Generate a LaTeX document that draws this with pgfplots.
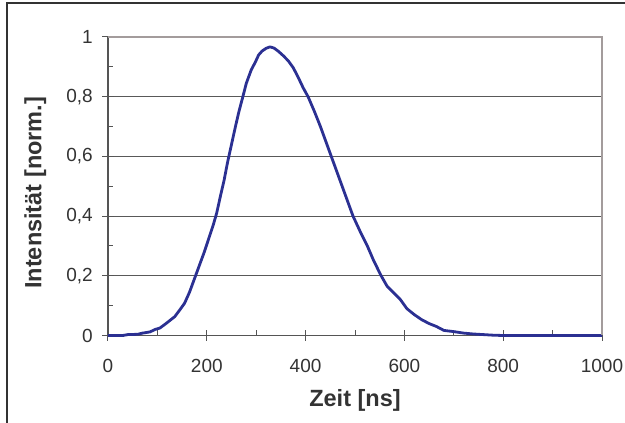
\documentclass[border=0pt]{standalone}
\usepackage{pgfplots}
\pgfplotsset{compat=1.18}
\usepackage{fontspec}
\setmainfont{Liberation Sans}
\definecolor{curve}{HTML}{2B3092}
\definecolor{txt}{HTML}{333333}
\definecolor{axisgray}{HTML}{555555}
\definecolor{bordergray}{HTML}{A39C9C}
\begin{document}
\begin{tikzpicture}[x=1pt,y=1pt]
\draw[line width=1.6pt, color=black!80] (7,-20) -- (7,420) -- (660,420);
\begin{axis}[
  at={(108pt,87.5pt)}, anchor=south west,
  scale only axis, width=494pt, height=298.5pt,
  xmin=0, xmax=1000, ymin=0, ymax=1,
  axis lines=left,
  axis line style={-, draw=axisgray, line width=1.2pt},
  xtick={0,200,400,600,800,1000},
  ytick={0,0.2,0.4,0.6,0.8,1},
  minor x tick num=1, minor y tick num=1,
  tick align=inside,
  major tick length=11pt, minor tick length=5.5pt,
  major x tick style={yshift=-5.5pt},
  major y tick style={xshift=-5.5pt},
  tick style={draw=axisgray, line width=1pt},
  ymajorgrids,
  major grid style={draw=black!65, line width=0.8pt},
  /pgf/number format/assume math mode=true,
  /pgf/number format/use comma,
  /pgf/number format/1000 sep={},
  ticklabel style={font=\fontsize{19}{22}\selectfont, text=txt},
  xticklabel style={anchor=center, inner sep=0pt, yshift=-30pt},
  yticklabel style={anchor=east, inner sep=0pt, xshift=-15pt},
  xlabel={Zeit [ns]},
  ylabel={Intensität [norm.]},
  label style={font=\bfseries\fontsize{23.5}{28}\selectfont, text=txt},
  xlabel style={at={(axis description cs:0.5,-0.216)}, anchor=center},
  ylabel style={at={(axis description cs:-0.147,0.478)}, anchor=center, rotate=0},
  clip=false,
]
\addplot[color=curve, line width=2.8pt, line join=round] coordinates {
(0,0) (30,0) (40,0.003) (60,0.004) (70,0.008) (85,0.012) (95,0.02) (105,0.025)
(115,0.037) (125,0.05) (135,0.063) (145,0.085) (155,0.108) (165,0.145) (175,0.19)
(185,0.235) (195,0.28) (205,0.33) (213,0.37) (220,0.41) (228,0.47) (235,0.52)
(242,0.58) (250,0.64) (258,0.70) (265,0.75) (273,0.80) (280,0.845) (290,0.89)
(298,0.915) (305,0.94) (312,0.953) (320,0.962) (328,0.967) (336,0.963) (345,0.952)
(355,0.937) (365,0.92) (375,0.897) (385,0.865) (395,0.83) (405,0.80) (418,0.75)
(430,0.70) (441,0.65) (452,0.60) (463,0.55) (474,0.50) (485,0.45) (496,0.40)
(510,0.35) (525,0.30) (538,0.25) (553,0.20) (565,0.165) (580,0.14) (592,0.12)
(605,0.09) (620,0.07) (635,0.053) (650,0.04) (665,0.03) (680,0.017) (700,0.013)
(720,0.008) (740,0.005) (760,0.003) (780,0.001) (800,0) (1000,0)
};
\draw[draw=bordergray, line width=1.6pt] (rel axis cs:0,1) -- (rel axis cs:1,1) -- (rel axis cs:1,0);
\end{axis}
\pgfresetboundingbox
\useasboundingbox (0,0) rectangle (625,423);
\end{tikzpicture}
\end{document}
